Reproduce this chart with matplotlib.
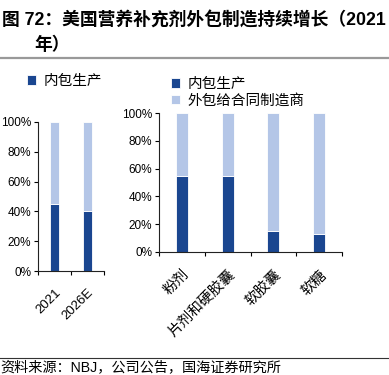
import matplotlib.pyplot as plt
from matplotlib.lines import Line2D

plt.rcParams['font.family'] = ['Liberation Sans', 'Noto Sans CJK SC', 'DejaVu Sans']

DARK = '#1A4690'
LIGHT = '#B4C6E7'

# left panel: 2021 vs 2026E
years = ['2021', '2026E']
inhouse_year = [45, 40]
outsource_year = [55, 60]

# right panel: by dosage form
forms = ['粉剂', '片剂和硬胶囊', '软胶囊', '软糖']
inhouse_form = [55, 55, 15, 13]
outsource_form = [45, 45, 85, 87]

W, H = 389, 375
fig = plt.figure(figsize=(W / 100, H / 100), dpi=100)

def px_axes(l, t, r, b):
    return fig.add_axes([l / W, 1 - b / H, (r - l) / W, (b - t) / H])

def style(ax, n):
    for s in ['top', 'right']:
        ax.spines[s].set_visible(False)
    for s in ['left', 'bottom']:
        ax.spines[s].set_color('#222222')
        ax.spines[s].set_linewidth(0.8)
    ax.set_ylim(0, 100)
    ax.set_xlim(-0.5, n - 0.5)
    ax.set_yticks(range(0, 101, 20))
    ax.set_yticklabels([f'{v}%' for v in range(0, 101, 20)], fontsize=8.5)
    ax.tick_params(axis='y', length=3, width=0.8, pad=2)
    ax.set_xticks(range(n))
    ax.tick_params(axis='x', length=0, pad=11)
    ax.set_xticks([i - 0.5 for i in range(n + 1)], minor=True)
    ax.tick_params(axis='x', which='minor', length=3, width=0.8, direction='out')

# left chart
ax1 = px_axes(38, 122, 104, 271)
x1 = range(len(years))
ax1.bar(x1, inhouse_year, width=0.25, color=DARK, edgecolor='white', linewidth=0.6)
ax1.bar(x1, outsource_year, bottom=inhouse_year, width=0.25, color=LIGHT,
        edgecolor='white', linewidth=0.6)
style(ax1, len(years))
ax1.set_xticklabels(years, rotation=45, ha='right', rotation_mode='anchor', fontsize=9.5)

# right chart
ax2 = px_axes(159, 113, 342, 252)
x2 = range(len(forms))
b1 = ax2.bar(x2, inhouse_form, width=0.26, color=DARK, edgecolor='white', linewidth=0.6)
b2 = ax2.bar(x2, outsource_form, bottom=inhouse_form, width=0.26, color=LIGHT,
             edgecolor='white', linewidth=0.6)
style(ax2, len(forms))
ax2.set_xticklabels(forms, rotation=45, ha='right', rotation_mode='anchor',
                    fontsize=10.5, family=['Noto Sans CJK SC'])

# legends
leg_prop = {'family': 'Noto Sans CJK SC', 'size': 10.5}
fig.legend([b1], ['内包生产'], loc='upper left', bbox_to_anchor=(14 / W, 1 - 61 / H),
           frameon=False, prop=leg_prop,
           handlelength=0.6, handleheight=0.6, handletextpad=0.5)
fig.legend([b1, b2], ['内包生产', '外包给合同制造商'], loc='upper left',
           bbox_to_anchor=(158 / W, 1 - 64 / H), frameon=False, prop=leg_prop,
           handlelength=0.6, handleheight=0.6, handletextpad=0.5, labelspacing=0.15)

# title
fig.text(2 / W, 1 - 20 / H, '图 72：美国营养补充剂外包制造持续增长（2021',
         fontsize=12.8, fontweight='bold', va='center', ha='left',
         family=['Liberation Sans', 'Noto Sans CJK SC'])
fig.text(34 / W, 1 - 45 / H, '年）', fontsize=12.8, fontweight='bold', va='center',
         ha='left', family=['Noto Sans CJK SC'])
fig.add_artist(Line2D([0, 1], [1 - 58 / H] * 2, color='#999999', lw=1.6))
fig.add_artist(Line2D([0, 1], [1 - 358 / H] * 2, color='#333333', lw=0.8))
fig.text(0, 1 - 367 / H, '资料来源：NBJ，公司公告，国海证券研究所', fontsize=10.2,
         va='center', ha='left', family=['Liberation Sans', 'Noto Sans CJK SC'])

fig.savefig('out.png', dpi=100)
